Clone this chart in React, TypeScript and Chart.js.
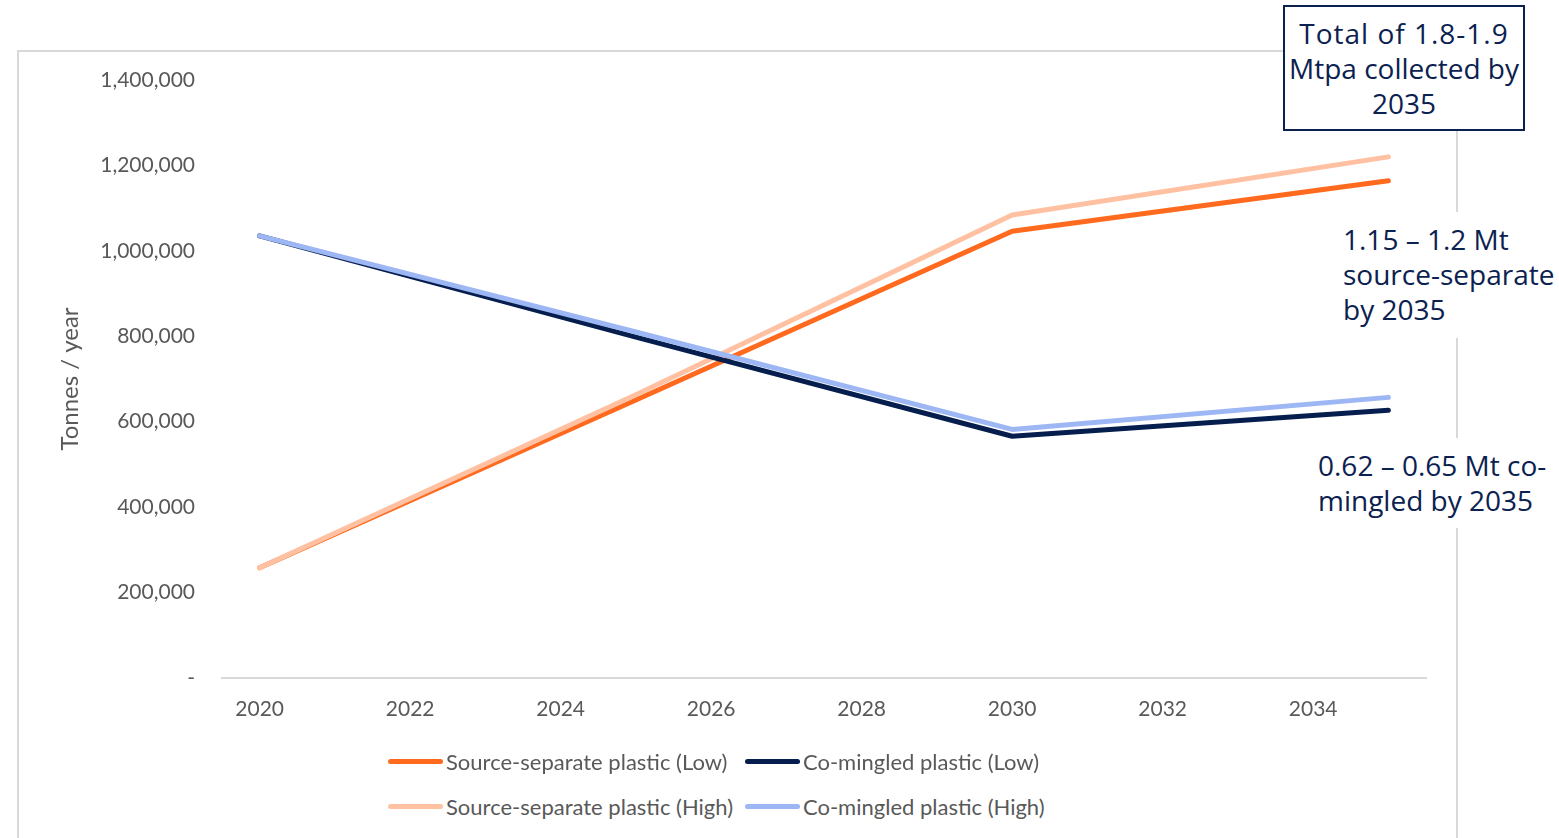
import React, { useEffect, useRef } from "react";
import { Chart, registerables } from "chart.js";

Chart.register(...registerables);

const years = ["2020","2021","2022","2023","2024","2025","2026","2027","2028","2029","2030","2031","2032","2033","2034","2035"];
const sourceLow = [258000, null, null, null, null, 651000, null, null, null, null, 1046000, null, null, null, null, 1164000];
const sourceHigh = [258000, null, null, null, null, 663000, null, null, null, null, 1084000, null, null, null, null, 1220000];
const comingledLow = [1035000, null, null, null, null, 798000, null, null, null, null, 566000, null, null, null, null, 627000];
const comingledHigh = [1035000, null, null, null, null, 810000, null, null, null, null, 582000, null, null, null, null, 657000];
const yTicks = [0, 200000, 400000, 600000, 800000, 1000000, 1200000, 1400000];

const COL_SRC_LOW = "#FF6A1F";
const COL_SRC_HIGH = "#FFC1A2";
const COL_CO_LOW = "#061E4E";
const COL_CO_HIGH = "#9DB6F4";
const NAVY = "#0B2150";
const GREY_TEXT = "#595959";
const FONT = "Lato, 'Open Sans', sans-serif";

const legendItems = [
  { label: "Source-separate plastic (Low)", color: COL_SRC_LOW, x: 388, y: 762 },
  { label: "Co-mingled plastic (Low)", color: COL_CO_LOW, x: 745, y: 762 },
  { label: "Source-separate plastic (High)", color: COL_SRC_HIGH, x: 388, y: 807 },
  { label: "Co-mingled plastic (High)", color: COL_CO_HIGH, x: 745, y: 807 },
];

export default function App() {
  const ref = useRef<HTMLCanvasElement | null>(null);

  useEffect(() => {
    document.body.style.overflow = "hidden";
    const ds = (label: string, data: (number | null)[], color: string, order: number) => ({
      label,
      data,
      borderColor: color,
      backgroundColor: color,
      borderWidth: 5,
      pointRadius: 0,
      pointHoverRadius: 0,
      tension: 0,
      spanGaps: true,
      borderCapStyle: "round" as const,
      borderJoinStyle: "round" as const,
      order,
    });
    const chart = new Chart(ref.current as HTMLCanvasElement, {
      type: "line",
      data: {
        labels: years,
        datasets: [
          ds("Source-separate plastic (Low)", sourceLow, COL_SRC_LOW, 4),
          ds("Co-mingled plastic (Low)", comingledLow, COL_CO_LOW, 2),
          ds("Source-separate plastic (High)", sourceHigh, COL_SRC_HIGH, 3),
          ds("Co-mingled plastic (High)", comingledHigh, COL_CO_HIGH, 1),
        ],
      },
      options: {
        animation: false,
        responsive: false,
        maintainAspectRatio: false,
        events: [],
        layout: { padding: { top: 80, right: 30, bottom: 0, left: 0 } },
        plugins: { legend: { display: false }, tooltip: { enabled: false } },
        scales: {
          x: {
            type: "category",
            offset: true,
            grid: { display: false, drawTicks: false },
            border: { display: true, color: "#D9D9D9", width: 2 },
            ticks: {
              autoSkip: false,
              maxRotation: 0,
              padding: 19,
              color: GREY_TEXT,
              font: { family: FONT, size: 21 },
              callback: (_v: any, i: number) => (i % 2 === 0 ? years[i] : ""),
            },
            afterFit: (s: any) => { s.height = 73; },
          },
          y: {
            min: 0,
            max: 1400000,
            grid: { display: false, drawTicks: false },
            border: { display: false },
            afterBuildTicks: (s: any) => { s.ticks = yTicks.map((v) => ({ value: v })); },
            ticks: {
              padding: 27,
              color: GREY_TEXT,
              font: { family: FONT, size: 21 },
              callback: (v: any) => (Number(v) === 0 ? "-" : Number(v).toLocaleString("en-US")),
            },
            title: {
              display: true,
              text: "Tonnes / year",
              color: GREY_TEXT,
              font: { family: FONT, size: 24 },
              padding: { top: 56, bottom: 0 },
            },
            afterFit: (s: any) => { s.width = 222; },
          },
        },
      },
    });
    return () => chart.destroy();
  }, []);

  const annot: React.CSSProperties = {
    position: "absolute",
    background: "#fff",
    color: NAVY,
    fontFamily: "'Open Sans', 'DejaVu Sans', sans-serif",
    fontSize: 28,
    lineHeight: "35px",
    whiteSpace: "nowrap",
  };

  return (
    <div style={{ position: "absolute", left: 0, top: 0, width: 1559, height: 838, overflow: "hidden", background: "#fff" }}>
      <div style={{ position: "absolute", left: 17, top: 50, width: 1437, height: 900, border: "2px solid #D9D9D9" }} />
      <canvas ref={ref} width={1456} height={751} style={{ position: "absolute", left: 0, top: 0, width: 1456, height: 751 }} />
      {legendItems.map((it) => (
        <div key={it.label} style={{ position: "absolute", left: it.x, top: it.y - 16, height: 30, display: "flex", alignItems: "center" }}>
          <div style={{ width: 55, height: 5, borderRadius: 3, background: it.color, marginRight: 3 }} />
          <span style={{ fontFamily: FONT, fontSize: 22, color: GREY_TEXT, whiteSpace: "nowrap" }}>{it.label}</span>
        </div>
      ))}
      <div style={{ ...annot, left: 1283, top: 5, width: 238, height: 122, border: `2px solid ${NAVY}`, textAlign: "center", display: "flex", flexDirection: "column", justifyContent: "center" }}>
        <div style={{ letterSpacing: 1 }}>Total of 1.8-1.9</div>
        <div>Mtpa collected by</div>
        <div>2035</div>
      </div>
      <div style={{ ...annot, left: 1343, top: 212, width: 216, height: 126, paddingTop: 10, boxSizing: "border-box" }}>
        <div>1.15 – 1.2 Mt</div>
        <div>source-separate</div>
        <div>by 2035</div>
      </div>
      <div style={{ ...annot, left: 1318, top: 438, width: 241, height: 90, paddingTop: 10, boxSizing: "border-box" }}>
        <div>0.62 – 0.65 Mt co-</div>
        <div>mingled by 2035</div>
      </div>
    </div>
  );
}
